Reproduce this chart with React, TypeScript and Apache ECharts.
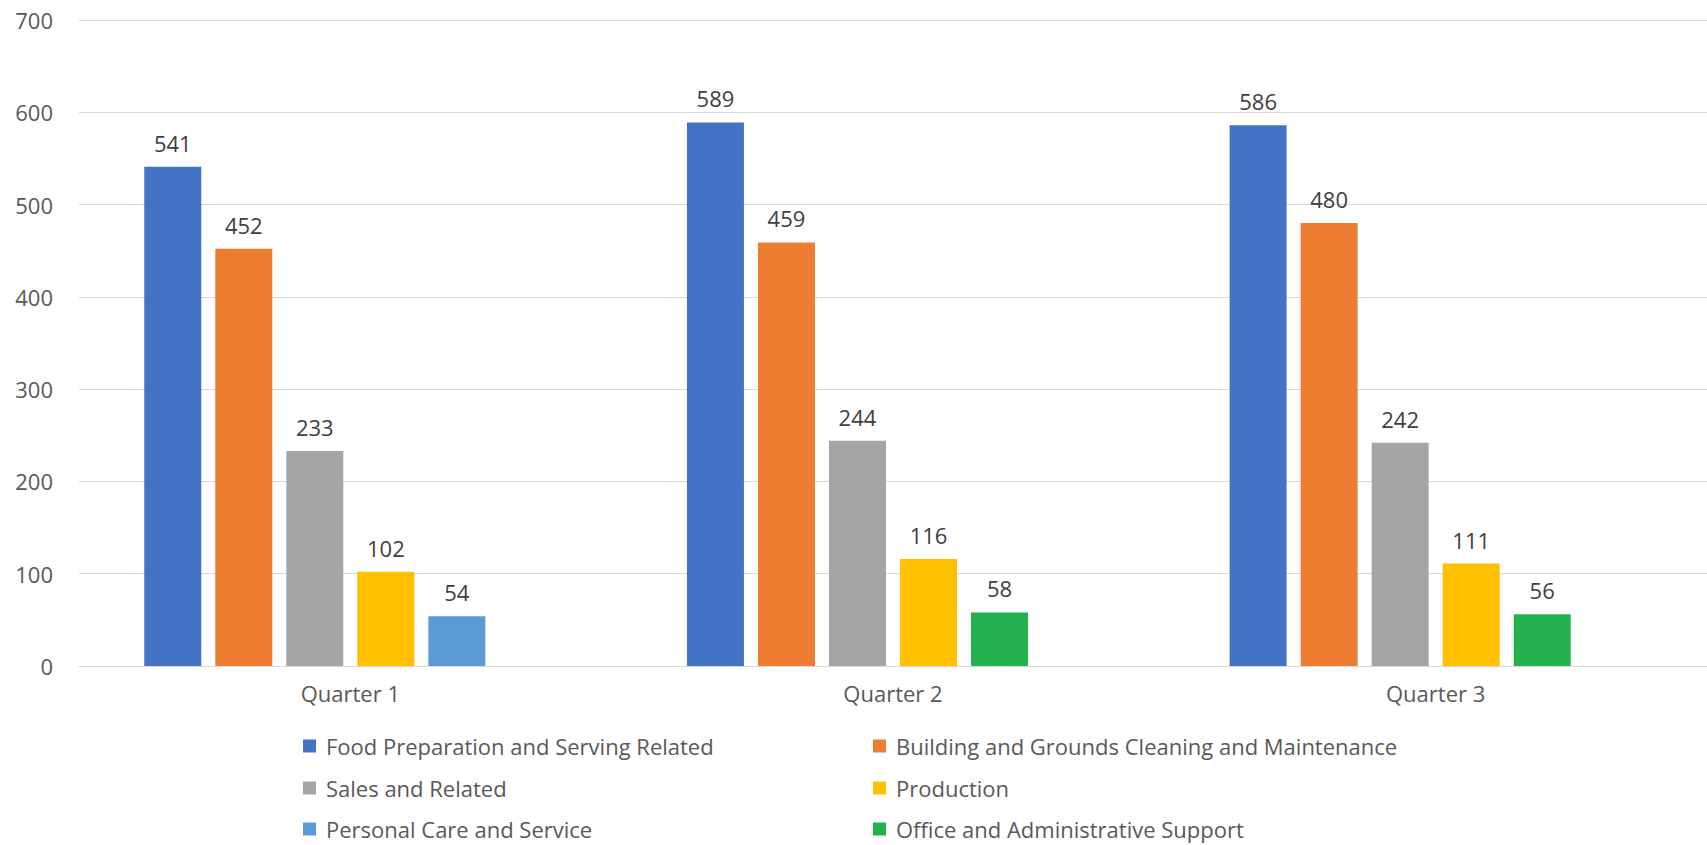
import React, { useEffect, useRef } from "react";
import * as echarts from "echarts";

const categories = ["Quarter 1", "Quarter 2", "Quarter 3"];
const seriesNames = [
  "Food Preparation and Serving Related",
  "Building and Grounds Cleaning and Maintenance",
  "Sales and Related",
  "Production",
  "Personal Care and Service",
  "Office and Administrative Support",
];
const foodPrep = [541, 589, 586];
const building = [452, 459, 480];
const sales = [233, 244, 242];
const production = [102, 116, 111];
const personalCare: (number | null)[] = [54, null, null];
const office: (number | null)[] = [null, 58, 56];
const colors = ["#4472C4", "#ED7D31", "#A5A5A5", "#FFC000", "#5B9BD5", "#23B14D"];
const yTicks = { min: 0, max: 700, interval: 100 };

const FONT = "'Open Sans', 'Noto Sans', sans-serif";

export default function App() {
  const ref = useRef<HTMLDivElement>(null);
  useEffect(() => {
    if (!ref.current) return;
    const chart = echarts.init(ref.current, undefined, { renderer: "svg" });
    const values = [foodPrep, building, sales, production, personalCare, office];
    const stacks = ["s0", "s1", "s2", "s3", "s4", "s4"];
    const series: any[] = values.map((d, i) => ({
      type: "bar",
      name: seriesNames[i],
      data: d,
      stack: stacks[i],
      barWidth: 57,
      barGap: "24.6%",
      itemStyle: { color: colors[i] },
      label: {
        show: true,
        position: "top",
        distance: 13,
        color: "#404040",
        fontSize: 22,
        fontFamily: FONT,
      },
    }));
    series.push({
      type: "bar",
      name: "pad",
      data: [null, null, null],
      stack: "s5",
      barWidth: 57,
      barGap: "24.6%",
    });
    const colLeft = [303, 873];
    const rowCenter = [746, 788, 829];
    const legends = seriesNames.map((name, i) => ({
      orient: "horizontal",
      icon: "rect",
      itemWidth: 13,
      itemHeight: 13,
      padding: 0,
      left: colLeft[i % 2],
      top: rowCenter[Math.floor(i / 2)] - 11,
      data: [name],
      textStyle: {
        fontSize: 22,
        lineHeight: 22,
        color: "#595959",
        fontFamily: FONT,
        padding: [0, 0, 0, 5],
      },
    }));
    chart.setOption({
      animation: false,
      grid: { left: 79, right: 0, top: 20, bottom: 179 },
      legend: legends,
      xAxis: {
        type: "category",
        data: categories,
        axisTick: { show: false },
        axisLine: { lineStyle: { color: "#D9D9D9" } },
        axisLabel: { color: "#595959", fontSize: 22, fontFamily: FONT, margin: 16 },
      },
      yAxis: {
        type: "value",
        min: yTicks.min,
        max: yTicks.max,
        interval: yTicks.interval,
        axisLine: { show: false },
        axisTick: { show: false },
        splitLine: { lineStyle: { color: "#D9D9D9" } },
        axisLabel: { color: "#595959", fontSize: 22, fontFamily: FONT, margin: 26 },
      },
      series,
    });
    return () => chart.dispose();
  }, []);
  return (
    <div
      ref={ref}
      style={{ position: "absolute", left: 0, top: 0, width: 1707, height: 845, background: "#fff" }}
    />
  );
}
